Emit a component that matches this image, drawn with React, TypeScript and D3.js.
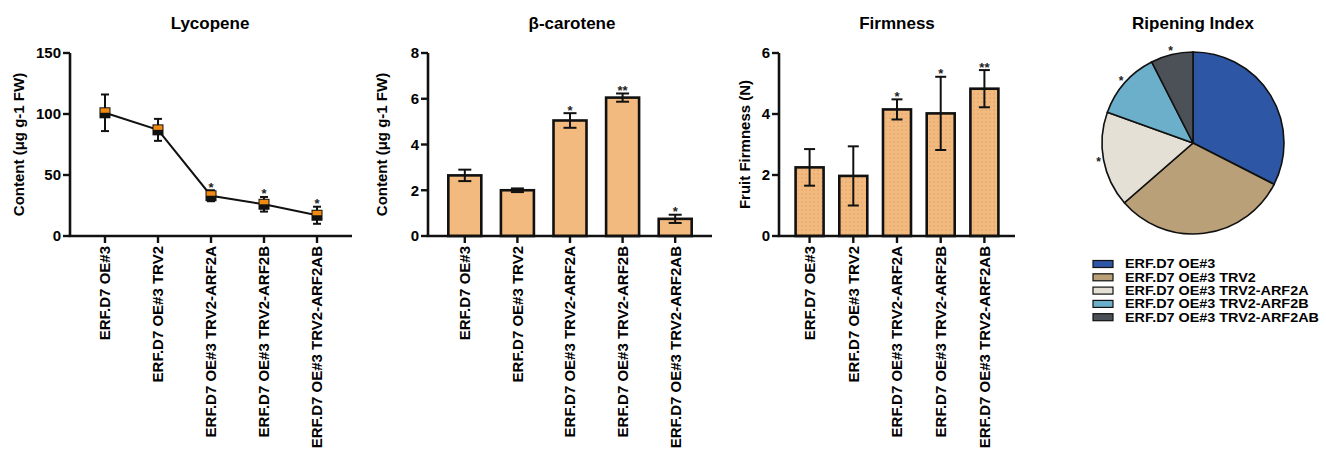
import React from "react";
import * as d3 from "d3";

const categories = [
  "ERF.D7 OE#3",
  "ERF.D7 OE#3 TRV2",
  "ERF.D7 OE#3 TRV2-ARF2A",
  "ERF.D7 OE#3 TRV2-ARF2B",
  "ERF.D7 OE#3 TRV2-ARF2AB",
];

const lycopeneMean = [101, 87, 33, 26, 17];
const lycopeneErr = [15, 9, 4.5, 6, 7];
const lycopeneSig = ["", "", "*", "*", "*"];
const lycopeneTicks = [0, 50, 100, 150];

const caroteneMean = [2.65, 2.0, 5.05, 6.05, 0.75];
const caroteneErr = [0.25, 0.08, 0.32, 0.18, 0.18];
const caroteneSig = ["", "", "*", "**", "*"];
const caroteneTicks = [0, 2, 4, 6, 8];

const firmnessMean = [2.25, 1.97, 4.15, 4.02, 4.83];
const firmnessErr = [0.6, 0.97, 0.33, 1.2, 0.61];
const firmnessSig = ["", "", "*", "*", "**"];
const firmnessTicks = [0, 2, 4, 6];

const ripeningShare = [32.5, 31.1, 16.9, 12.0, 7.5];
const ripeningSig = ["", "", "*", "*", "*"];
const pieColors = ["#2D56A5", "#B9A078", "#E4E0D6", "#6BAFCB", "#4C5158"];

const FONT = "'Liberation Sans', Arial, sans-serif";
const Y0 = 236;
const Y1 = 53;
const BAR_FILL = "#F3BA7F";

type AxisProps = {
  x0: number;
  x1: number;
  y: d3.ScaleLinear<number, number>;
  ticks: number[];
  xs: d3.ScalePoint<string>;
  ylabel: string;
  ylabelX: number;
  title: string;
  titleX: number;
};

function Axes({ x0, x1, y, ticks, xs, ylabel, ylabelX, title, titleX }: AxisProps) {
  return (
    <g>
      <text x={titleX} y={29} textAnchor="middle" fontSize={17} fontWeight="bold" fontFamily={FONT}>
        {title}
      </text>
      <line x1={x0} x2={x0} y1={y.range()[1]} y2={y.range()[0]} stroke="#111" strokeWidth={2.6} />
      <line x1={x0 - 1.3} x2={x1} y1={y.range()[0]} y2={y.range()[0]} stroke="#111" strokeWidth={2.6} />
      {ticks.map((t) => (
        <g key={t}>
          <line x1={x0 - 7} x2={x0} y1={y(t)} y2={y(t)} stroke="#111" strokeWidth={2.4} />
          <text x={x0 - 9} y={y(t)} dy="0.36em" textAnchor="end" fontSize={15} fontWeight="bold" fontFamily={FONT}>
            {t}
          </text>
        </g>
      ))}
      {categories.map((c) => (
        <g key={c}>
          <line x1={xs(c)} x2={xs(c)} y1={y.range()[0]} y2={y.range()[0] + 7} stroke="#111" strokeWidth={2.4} />
          <text
            transform={`translate(${xs(c)},${y.range()[0] + 10}) rotate(-90)`}
            dy="0.36em"
            textAnchor="end"
            fontSize={15}
            fontWeight="bold"
            fontFamily={FONT}
          >
            {c}
          </text>
        </g>
      ))}
      <text
        transform={`translate(${ylabelX},${(y.range()[0] + y.range()[1]) / 2}) rotate(-90)`}
        dy="0.36em"
        textAnchor="middle"
        fontSize={15}
        fontWeight="bold"
        fontFamily={FONT}
      >
        {ylabel}
      </text>
    </g>
  );
}

function ErrorBar({ x, yTop, yBot, cap }: { x: number; yTop: number; yBot: number; cap: number }) {
  return (
    <g stroke="#111" strokeWidth={2}>
      <line x1={x} x2={x} y1={yTop} y2={yBot} />
      <line x1={x - cap / 2} x2={x + cap / 2} y1={yTop} y2={yTop} />
      <line x1={x - cap / 2} x2={x + cap / 2} y1={yBot} y2={yBot} />
    </g>
  );
}

function Star({ x, yTop, s }: { x: number; yTop: number; s: string }) {
  if (!s) return null;
  return (
    <text x={x} y={yTop + 1.5} textAnchor="middle" fontSize={13} fontWeight="bold" fontFamily={FONT} fill="#222">
      {s}
    </text>
  );
}

function LycopenePanel() {
  const x0 = 70, x1 = 352;
  const xs = d3.scalePoint<string>().domain(categories).range([x0, x1]).padding(0.66);
  const y = d3.scaleLinear().domain([0, 150]).range([Y0, Y1]);
  const line = d3
    .line<number>()
    .x((_, i) => xs(categories[i])!)
    .y((d) => y(d));
  return (
    <g>
      <Axes x0={x0} x1={x1} y={y} ticks={lycopeneTicks} xs={xs} ylabel="Content (μg g-1 FW)" ylabelX={19} title="Lycopene" titleX={210} />
      <path d={line(lycopeneMean) || ""} fill="none" stroke="#111" strokeWidth={2} />
      {lycopeneMean.map((m, i) => {
        const cx = xs(categories[i])!;
        const cy = y(m);
        const e = lycopeneErr[i];
        return (
          <g key={i}>
            <ErrorBar x={cx} yTop={y(m + e)} yBot={y(m - e)} cap={8} />
            <rect x={cx - 5.5} y={cy - 5.5} width={11} height={11} fill="#111" />
            <rect x={cx - 4.5} y={cy - 4.5} width={9} height={4.5} fill="#F08A12" />
            <Star x={cx} yTop={y(m + e)} s={lycopeneSig[i]} />
          </g>
        );
      })}
    </g>
  );
}

type BarPanelProps = {
  x0: number;
  x1: number;
  mean: number[];
  err: number[];
  sig: string[];
  ticks: number[];
  ymax: number;
  barW: number;
  cap: number;
  fill: string;
  ylabel: string;
  ylabelX: number;
  title: string;
  titleX: number;
};

function BarPanel(p: BarPanelProps) {
  const xs = d3.scalePoint<string>().domain(categories).range([p.x0, p.x1]).padding(0.7);
  const y = d3.scaleLinear().domain([0, p.ymax]).range([Y0, Y1]);
  return (
    <g>
      {p.mean.map((m, i) => {
        const cx = xs(categories[i])!;
        return (
          <rect
            key={i}
            x={cx - p.barW / 2}
            y={y(m)}
            width={p.barW}
            height={y(0) - y(m)}
            fill={p.fill}
            stroke="#111"
            strokeWidth={2.6}
          />
        );
      })}
      <Axes x0={p.x0} x1={p.x1} y={y} ticks={p.ticks} xs={xs} ylabel={p.ylabel} ylabelX={p.ylabelX} title={p.title} titleX={p.titleX} />
      {p.mean.map((m, i) => {
        const cx = xs(categories[i])!;
        const e = p.err[i];
        return (
          <g key={i}>
            <ErrorBar x={cx} yTop={y(m + e)} yBot={y(m - e)} cap={p.cap} />
            <Star x={cx} yTop={y(m + e)} s={p.sig[i]} />
          </g>
        );
      })}
    </g>
  );
}

function PiePanel() {
  const cx = 1193, cy = 143, r = 91;
  const pie = d3.pie<number>().sort(null).value((d) => d).startAngle(0).endAngle(2 * Math.PI);
  const arcs = pie(ripeningShare);
  const arc = d3.arc<d3.PieArcDatum<number>>().innerRadius(0).outerRadius(r);
  const starArc = d3.arc<d3.PieArcDatum<number>>().innerRadius(96).outerRadius(96);
  return (
    <g>
      <text x={cx} y={29} textAnchor="middle" fontSize={17} fontWeight="bold" fontFamily={FONT}>
        Ripening Index
      </text>
      <g transform={`translate(${cx},${cy})`}>
        {arcs.map((a, i) => (
          <path key={i} d={arc(a) || ""} fill={pieColors[i]} stroke="#111" strokeWidth={1.6} />
        ))}
        {arcs.map((a, i) => {
          if (!ripeningSig[i]) return null;
          const [sx, sy] = starArc.centroid(a);
          return (
            <text key={"s" + i} x={sx} y={sy + 5} textAnchor="middle" fontSize={12} fontWeight="bold" fontFamily={FONT} fill="#222">
              {ripeningSig[i]}
            </text>
          );
        })}
      </g>
      {categories.map((c, i) => {
        const yy = 264 + i * 13.3;
        return (
          <g key={c}>
            <rect x={1093} y={yy - 3.5} width={20} height={7} fill={pieColors[i]} stroke="#111" strokeWidth={1.2} />
            <g transform={`translate(1125,${yy}) scale(1.18,1)`}>
              <text x={0} y={0} dy="0.36em" fontSize={12.2} fontWeight="bold" fontFamily={FONT}>
                {c}
              </text>
            </g>
          </g>
        );
      })}
    </g>
  );
}

export default function App() {
  return (
    <svg
      width={1326}
      height={452}
      style={{ position: "absolute", left: 0, top: 0, background: "#fff" }}
      fontFamily={FONT}
    >
      <defs>
        <pattern id="dots" width={4} height={4} patternUnits="userSpaceOnUse">
          <rect width={4} height={4} fill={BAR_FILL} />
          <circle cx={2} cy={2} r={0.6} fill="#C98A52" />
        </pattern>
      </defs>
      <rect width={1326} height={452} fill="#fff" />
      <LycopenePanel />
      <BarPanel
        x0={428}
        x1={712}
        mean={caroteneMean}
        err={caroteneErr}
        sig={caroteneSig}
        ticks={caroteneTicks}
        ymax={8}
        barW={33}
        cap={13}
        fill={BAR_FILL}
        ylabel="Content (μg g-1 FW)"
        ylabelX={382}
        title="β-carotene"
        titleX={572}
      />
      <BarPanel
        x0={779}
        x1={1015}
        mean={firmnessMean}
        err={firmnessErr}
        sig={firmnessSig}
        ticks={firmnessTicks}
        ymax={6}
        barW={28}
        cap={11}
        fill="url(#dots)"
        ylabel="Fruit Firmness (N)"
        ylabelX={745}
        title="Firmness"
        titleX={897}
      />
      <PiePanel />
    </svg>
  );
}
